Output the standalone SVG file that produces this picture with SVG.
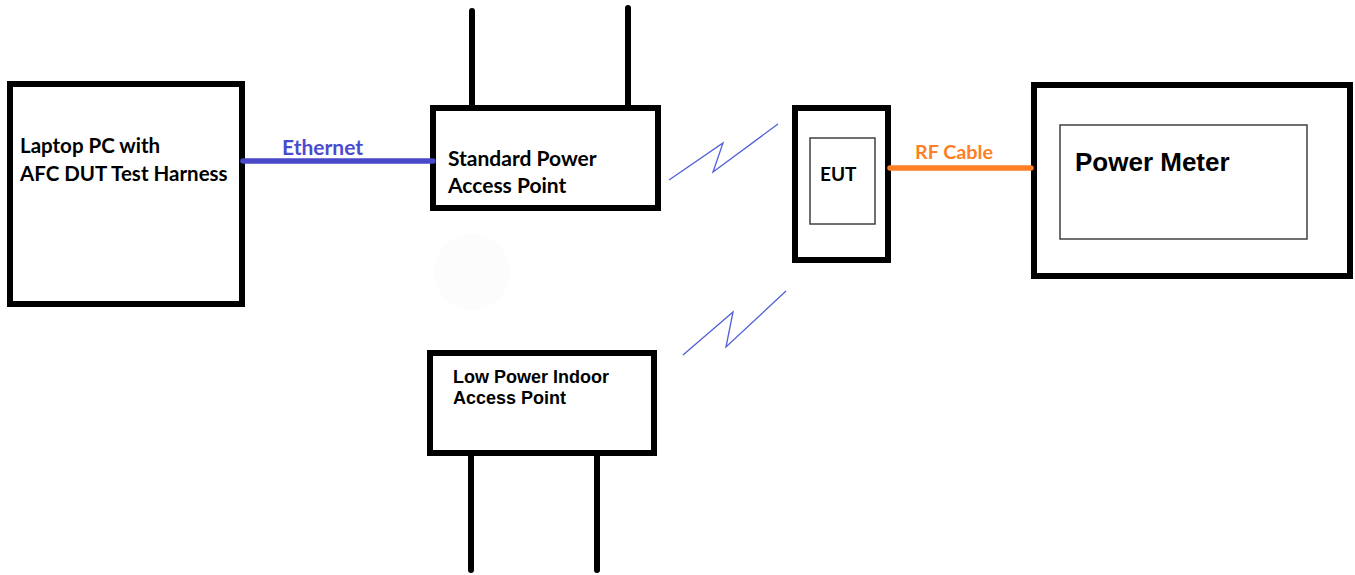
<svg xmlns="http://www.w3.org/2000/svg" width="1355" height="575" viewBox="0 0 1355 575">
<style>
.box{fill:#fff;stroke:#000;stroke-width:6}
.inner{fill:none;stroke:#404040;stroke-width:1.5}
.ant{stroke:#000;stroke-width:6;stroke-linecap:round;fill:none}
.cal{font-family:Lato,"Open Sans",sans-serif;font-weight:bold;fill:#000}
.ari{font-family:"Liberation Sans",Arial,sans-serif;font-weight:bold;fill:#000}
.zig{fill:none;stroke:#5060d8;stroke-width:1.3;stroke-linejoin:miter}
</style>
<rect width="1355" height="575" fill="#fff"/>
<circle cx="472" cy="272" r="38" fill="#fcfcfc"/>
<g id="laptop">
<rect class="box" x="10" y="84" width="232" height="220"/>
<text class="cal" x="20" y="153" font-size="20.5">Laptop PC with</text>
<text class="cal" x="20" y="181" font-size="20.5">AFC DUT Test Harness</text>
</g>
<g id="standard-ap">
<line class="ant" x1="472" y1="11" x2="472" y2="106"/>
<line class="ant" x1="628" y1="8" x2="628" y2="106"/>
<rect class="box" x="433" y="108" width="225" height="100"/>
<text class="cal" x="448" y="166" font-size="21">Standard Power</text>
<text class="cal" x="448" y="193" font-size="21">Access Point</text>
</g>
<g id="low-power-ap">
<line class="ant" x1="471" y1="455" x2="471" y2="570"/>
<line class="ant" x1="597" y1="455" x2="597" y2="570"/>
<rect class="box" x="430" y="353" width="224" height="100"/>
<text class="ari" x="453" y="383" font-size="18">Low Power Indoor</text>
<text class="ari" x="453" y="404" font-size="18">Access Point</text>
</g>
<g id="eut">
<rect class="box" x="795" y="108" width="93" height="152"/>
<rect class="inner" x="810" y="138" width="65" height="86"/>
<text class="cal" x="820" y="181" font-size="19">EUT</text>
</g>
<g id="power-meter">
<rect class="box" x="1034" y="85" width="316" height="191"/>
<rect class="inner" x="1060" y="125" width="247" height="114"/>
<text class="ari" x="1075" y="171" font-size="26">Power Meter</text>
</g>
<g id="connectors">
<line x1="243" y1="161" x2="433" y2="161" stroke="#4848c8" stroke-width="5.5" stroke-linecap="round"/>
<text class="cal" x="282" y="155" font-size="21" style="fill:#4b4bd0">Ethernet</text>
<line x1="890" y1="168" x2="1031" y2="168" stroke="#ff7f27" stroke-width="5.5" stroke-linecap="round"/>
<text class="cal" x="915" y="159" font-size="19.8" style="fill:#ff7f27">RF Cable</text>
<polyline class="zig" points="669,180 723,143 713,172 778,124"/>
<polyline class="zig" points="683,355 733,312 726,347 786,291"/>
</g>
</svg>
